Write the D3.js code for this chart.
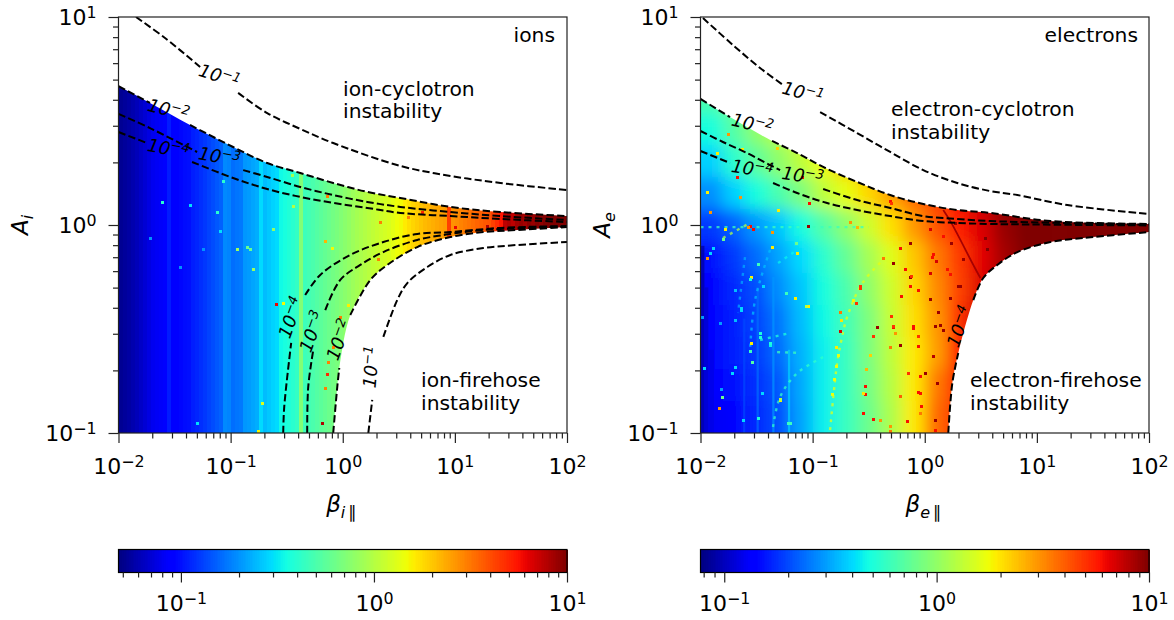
<!DOCTYPE html>
<html>
<head>
<meta charset="utf-8">
<script src="https://cdn.jsdelivr.net/npm/d3@7"></script>
<style>
    html, body { margin: 0; padding: 0; background: #fff; }
    text { font-family: "DejaVu Sans", sans-serif; fill: #000; }
</style>
</head>
<body>
<svg id="chart" width="1174" height="620"></svg>
<script>
// all contour points are [log10 beta, log10 A], null = gap for the inline label
const ionUpper1 = [[-1.844,1],[-1.585,.899],[-1.272,.76],null,[-.933,.635],[-.674,.538],[-.379,.462],[-.085,.394],[.513,.284],[.96,.236],[1.406,.202],[2,.168]];
const ionUpper2 = [[-2,.668],[-1.719,.587],null,[-1.362,.481],[-.978,.375],[-.674,.298],[-.379,.25],[-.085,.202],[.219,.159],[.513,.13],[.96,.087],[1.406,.0625],[2,.043]];
const ionUpper3 = [[-2,.534],[-1.719,.466],[-1.299,.351],null,[-.888,.264],[-.674,.231],[-.379,.183],[-.085,.144],[.219,.111],[.513,.087],[.96,.0625],[1.406,.043],[2,.024]];
const ionUpper4 = [[-2,.447],[-1.746,.394],null,[-1.344,.303],[-.978,.226],[-.674,.173],[-.379,.135],[-.085,.106],[.219,.082],[.513,.058],[.96,.043],[1.406,.029],[2,.014]];
const ionLower4 = [[-.531,-1],[-.522,-.875],[-.46,-.567],null,[-.335,-.337],[-.201,-.24],[.067,-.144],[.362,-.082],[.665,-.043],[.96,-.034],[1.406,-.014],[2,-.005]];
const ionLower3 = [[-.317,-1],[-.308,-.779],[-.263,-.601],null,[-.156,-.409],[-.022,-.264],[.156,-.192],[.362,-.13],[.665,-.072],[.96,-.043],[1.254,-.024],[2,-.007]];
const ionLower2 = [[-.085,-1],[-.049,-.779],[-.031,-.6875],null,[.067,-.433],[.246,-.264],[.397,-.192],[.665,-.106],[.96,-.058],[1.254,-.034],[1.558,-.024],[2,-.01]];
const ionLower1 = [[.228,-1],[.263,-.841],null,[.362,-.538],[.487,-.36],[.576,-.279],[.754,-.202],[.96,-.144],[1.254,-.111],[1.558,-.096],[2,-.082]];

const elUpper1 = [[-1.978,.995],[-1.71,.865],[-1.469,.755],[-1.263,.673],null,[-.933,.543],[-.603,.442],[-.308,.351],[-.013,.264],[.29,.202],[.585,.163],[.826,.144],[1.272,.096],[2,.053]];
const elUpper2 = [[-2,.606],[-1.737,.519],null,[-1.362,.404],[-1.138,.346],[-.906,.279],[-.603,.207],[-.308,.144],[-.013,.101],[.29,.072],[.585,.058],[1.121,.019],[2,.005]];
const elUpper3 = [[-2,.452],[-1.8,.399],[-1.585,.346],[-1.38,.288],[-1.29,.264],null,[-.906,.173],[-.603,.12],[-.308,.082],[-.013,.043],[.29,.029],[.585,.019],[2,.002]];
const elUpper4 = [[-2,.356],[-1.737,.298],null,[-1.353,.202],[-1.138,.154],[-.906,.111],[-.603,.072],[-.308,.043],[-.013,.019],[.29,.01],[.585,.005],[2,-.002]];
const elLower = [[.21,-1],[.246,-.76],[.299,-.615],null,[.433,-.361],[.522,-.255],[.647,-.192],[.826,-.13],[1.121,-.082],[1.415,-.0625],[2,-.034]];

// ions: growth colour is nearly a function of beta only, 28 columns per decade
const ionColumns = [.052,.054,.056,.059,.062,.066,.07,.075,.08,.082,.084,.086,.106,.09,.092,.095,.098,.10,
    .108,.112,.118,.124,.131,.138,.146,.154,.19,.185,.165,.171,.175,.205,.21,.22,.23,.293,.25,.265,.28,.293,
    .345,.36,.38,.40,.43,.72,.46,.48,.50,.53,.56,.59,.62,.65,.68,.72,.76,.80,.85,.90,.94,.98,
    1.03,1.08,1.13,1.17,1.22,1.27,1.35,1.45,1.5,1.62,1.75,1.85,1.95,2.05,2.15,2.23,2.3,2.4,2.48,2.55,4.3,
    2.7,2.8,2.95,3.07,3.2,3.35,3.5,3.6,3.75,3.85,4.3,4.8,5.5,7.5,8.0,7.5,8.5,9.0,8.5,9.5,9.0,9.8,9.3,10,10,10,10,10,10];

// isolated cells: [log10 beta, log10 A, value]
const ionSpecks = [[-1.719,-.067,.2],[-1.246,-.12,.2],[-.942,-.12,.85],[-.853,-.106,.6],[-.826,-.12,.6],[-.8,-.216,.85],
    [-.156,-.077,2.2],[-.094,-.115,1.5],[-1.451,-.202,.2],[-1.094,-.029,.3],[-.594,-.38,6],[-.531,-.375,1.5],
    [.317,-.168,3],[.335,.01,3],[-.129,-.663,3],[-.138,-.721,5],[-.156,-.784,3],[-.183,-.952,8],[-.085,-.587,3],
    [-.022,-.447,3],[.049,-.385,1.6],[-1.612,.106,.4],[-1.121,.058,.4],[-1.362,.096,.3],[-1.067,.207,.4],
    [-.442,.087,1],[-.621,-.024,.8],[-.138,.135,3],[-.451,.24,.9],[-.754,-.995,1.5],[-.719,-.856,1.3],[-1.299,-.952,.3],
    [1.004,-.014,6],[1.29,-.005,8],[.71,.058,5],[.585,.034,3]];

// electrons: coarse table, rows from top (log A = 1) down, 20 columns across beta
const electronRows = [
    [.8,1.07,1.43,1.93,2.6,3.45,4.6,6.1,7.5,9,10,10,10,10,10,10,10,10,10,10],
    [.725,.98,1.3,1.75,2.32,3.15,4.2,5.6,6.8,8.2,10,10,10,10,10,10,10,10,10,10],
    [.655,.88,1.18,1.58,2.13,2.85,3.76,5.1,6.1,7.5,9,10,10,10,10,10,10,10,10,10],
    [.49,.69,.98,1.3,1.75,2.32,3.15,4.2,5.1,6.1,7.5,9,10,10,10,10,10,10,10,10],
    [.385,.54,.725,.98,1.3,1.75,2.32,2.85,3.76,4.6,5.6,6.8,8.2,10,10,10,10,10,10,10],
    [.28,.385,.49,.655,.88,1.3,1.66,2.13,2.85,3.76,4.8,6.1,7.5,10,10,10,10,10,10,10],
    [.185,.225,.295,.365,.49,.69,.98,1.43,2.03,2.95,4.2,5.6,6.8,9,10,10,10,10,10,10],
    [.154,.185,.237,.31,.405,.54,.76,1.12,1.58,2.32,3.45,4.8,6.5,8.5,10,10,10,10,10,10],
    [.146,.17,.205,.28,.365,.49,.655,.98,1.43,2.13,3.15,4.6,6.8,8.2,10,10,10,10,10,10],
    [.146,.162,.195,.25,.35,.47,.62,.88,1.37,2.03,2.95,5.1,7.5,9,10,10,10,10,10,10],
    [.146,.162,.185,.237,.334,.45,.59,.88,1.3,1.93,2.85,5.6,6.8,9,10,10,10,10,10,10],
    [.14,.154,.177,.215,.32,.45,.59,.84,1.24,1.93,3.45,5.6,6.1,9,10,10,10,10,10,10],
    [.127,.14,.17,.205,.31,.45,.59,.8,1.18,1.93,3.76,5.1,6.1,9,10,10,10,10,10,10]
];

const electronSpecks = [[-1.558,-.005,6],[-1.04,-.005,9],[-1.362,-.106,1.9],[-1.942,-.159,3],[-1.138,-.139,1.9],[-1.549,-.25,1.9],
    [-1.156,-.351,1.9],[-1.04,-.394,1.9],[-.576,-.303,5],[-.424,-.495,9],[-.754,-.51,7],[-.46,-.538,3.5],[-.281,-.495,6],
    [-.103,-.49,6],[.094,-.486,9],[-1.549,-.572,1.9],[-.79,-.591,1.9],[-.308,-.587,3.5],[-.219,-.577,9],[.004,-.712,9],
    [.112,-.76,9],[-.058,-.803,6],[-.531,-.817,6],[-1.29,-.846,1.9],[-1.835,-.88,3],[-.549,-.904,6],[-.46,-.933,6],
    [-.04,-.904,3.5],[.094,-.9375,9],[.094,-.986,6],[-.156,-.947,6],[-.308,-.995,3.5],[-.754,-.423,3.5],[-.129,-.25,9],
    [-.058,-.3125,6],[.049,-.356,9],[.121,-.423,9],[-.281,-.183,9],[-.219,-.111,6],[-.129,-.091,9],[.067,-.154,6],
    [.201,-.216,6],[-.371,-.159,3.5],[-1.487,-.192,.6],[-1.719,-.712,.4],[-1.692,-.683,.4],[-1.54,-.659,.7],[-1.96,-.6875,.4],
    [-1.8,-.827,.8],[-1.754,.4375,3],[-1.674,.226,6],[-1.031,.101,6],[-1.094,.226,6],[-1.317,.37,2.2],[-.308,.111,6],
    [-1.647,.13,3],[-1.308,.072,1.9],[-1.915,.058,3],[-1.576,-.01,3],[-1.362,-.034,3],[-.603,-.01,2.5],[-.665,.014,3],
    [-1.531,-.024,6],[-1.942,.154,1.9],[-1.844,.346,1.9],[-1.629,.361,1.9],[-1.781,-.024,1.9],[-.174,-.212,6],[.076,-.144,6],
    [.165,-.053,6],[.237,-.087,9],[.344,-.168,9],[.228,-.24,6],[.317,-.298,9],[.54,-.0625,10],[.558,-.12,10],[.228,-.351,9],
    [.138,-.481,9],[-.04,-.808,6],[-1.978,-.447,.3],[-1.692,-.3125,.35],[-1.63,-.4,.4],[-1.469,-.543,.5],[-1.38,-.577,.45],
    [-1.451,-.808,.4],[-1.219,-.952,.6],
    [-.293,-.441,5],[-.114,-.249,5],[-.129,-.297,6],[-.278,-.489,5],[-.204,-.345,6],[-.099,-.497,6],[-.263,-.521,3],
    [-.457,-.537,5],[-.055,-.537,5],[-.055,-.585,6],[.049,-.233,7],[.109,-.177,7],[.302,-.297,9],[.168,-.505,9],
    [.079,-.633,8],[-.04,-.729,6],[-.144,-.713,5],[-.219,-.826,4],[-.025,-.874,6],[-.397,-.938,3],[-.308,-.97,3],
    [-.531,-.778,6],[-.516,-.697,2.5],[-.486,-.625,2.5],[-.605,-.377,5],[-.576,-.297,5],[.049,-.024,7],[.272,.008,9],
    [-.293,.104,5],[-1.796,-.072,.8],[-1.915,-.136,.4],[-1.558,-.264,.5],[-1.439,-.297,.4],[-1.231,-.329,.6],
    [-1.826,-.473,.3],[-1.692,-.457,.35],[-1.469,-.521,.5],[-1.558,-.609,.6],[-1.633,-.409,.4],[-1.38,-.569,.5],
    [-1.886,-.112,.4],[-1.052,-.393,1.3],[-1.142,-.088,.8],[-.784,-.681,1.7],[-.808,-.745,1.7],[-.82,-.817,1.7],
    [-.77,-.625,1.7],[-.487,-.625,2.2],[-.546,-.809,2],[-.74,-.457,2],[-.636,-.361,1.8],[-1.618,-.938,.4],
    [-1.484,-.93,.5],[-1.201,-.954,.6],[-1.811,-.793,.3],[-1.29,-.841,1.2]];

// darker strip along the low beta edge and a few vertical streaks:
// [logBeta from, logBeta to, logA from, logA to, value]
const electronStrips = [[-2,-1.965,-1,-.1,.088],[-1.965,-1.93,-1,-.3,.105],[-1.93,-1.88,-1,-.6,.118],
    [-1.62,-1.6,-1,-.45,.2],[-1.5,-1.48,-1,-.3,.24],[-1.36,-1.34,-1,-.25,.29],[-1.22,-1.2,-1,-.6,.38]];

// faint arcs in the electron map: value, then points
const electronArcValues = [1.6,.55,.5,.6,1.2,.45,.32,.35,.6];
const electronArcs = [
    [[-.844,-.986],[-.781,-.663],[-.737,-.538],[-.692,-.442],[-.549,-.274],[-.308,-.135]],
    [[-1.353,-.971],[-1.29,-.827],[-1.138,-.712],[-.906,-.635]],
    [[-1.469,-.553],[-1.201,-.519]],
    [[-1.317,-.611],[-1.112,-.615]],
    [[-1.8,-.0625],[-1.558,.01]],
    [[-1.308,-.183],[-1.138,-.12]],
    [[-1.603,-.154],[-1.665,-.423]],
    [[-1.38,-.12],[-1.513,-.36],[-1.558,-.6]],
    [[-2,-.01],[-.5,-.01]]
];
const electronRidge = [[.165,.072],[.237,.01],[.433,-.192],[.496,-.255]];

// contour labels: exponent, log beta, log A, angle
const ionLabels = [["−1",-1.103,.71,18],["−2",-1.558,.548,15],["−4",-1.558,.361,11],["−3",-1.103,.322,11],
    ["−4",-.451,-.447,-70],["−3",-.263,-.514,-70],["−2",-.022,-.553,-70],["−1",.263,-.683,-85]];
const electronLabels = [["−1",-1.09,.63,15],["−2",-1.54,.48,13],["−4",-1.54,.264,9],["−3",-1.09,.23,9],["−4",.32,-.49,-70]];

const jetRed = d3.scaleLinear().domain([0,.35,.66,.89,1]).range([0,0,1,1,.5]);
const jetGreen = d3.scaleLinear().domain([0,.125,.375,.64,.91,1]).range([0,0,1,1,0,0]);
const jetBlue = d3.scaleLinear().domain([0,.11,.34,.65,1]).range([.5,1,1,0,0]);
function jet(t) {
    return d3.rgb(jetRed(t)*255, jetGreen(t)*255, jetBlue(t)*255).formatRgb();
}

const svg = d3.select("#chart");
const defs = svg.append("defs");
defs.append("filter").attr("id", "smooth")
    .attr("filterUnits", "userSpaceOnUse")
    .attr("x", 600).attr("y", -60).attr("width", 640).attr("height", 600)
    .append("feGaussianBlur").attr("stdDeviation", 8);

const top_ = 17, bottom = 433;

function minorTicks(lo, hi) {
    // 2..9 of every decade between lo and hi
    const out = [];
    for (let e = lo; e < hi; e++) d3.range(2, 10).forEach(m => out.push(m * Math.pow(10, e)));
    return out;
}

function powLabel(sel, size) {
    sel.each(function (d) {
        const e = Math.round(Math.log10(d));
        const t = d3.select(this).text(null).style("font-size", size + "px");
        t.append("tspan").text("10");
        t.append("tspan").attr("dy", "-0.42em").style("font-size", (size * 0.72) + "px")
            .text(e < 0 ? "−" + (-e) : e);
    });
}

function styleAxis(g) {
    g.select(".domain").remove();
    g.selectAll("line").attr("stroke", "#222").attr("stroke-width", 1.2);
}

function panel(o) {
    const g = svg.append("g");
    const x = d3.scaleLog().domain([1e-2, 1e2]).range([o.left, o.left + 448.5]);
    const y = d3.scaleLog().domain([0.1, 10]).range([bottom, top_]);
    const colour = d3.scaleLog().domain([o.vmin, 10]).range([0, 1]).clamp(true);
    const fx = v => x(Math.pow(10, v));
    const fy = v => y(Math.pow(10, v));

    const line = d3.line().defined(d => d).x(d => fx(d[0])).y(d => fy(d[1])).curve(d3.curveCatmullRom);
    const solid = a => a.filter(d => d);

    // heat is only filled between the two bounding contours
    const upper = solid(o.upper), lower = solid(o.lower).slice().reverse();
    const clipD = line(upper) + "L" + line(lower).slice(1) + "L" + x(1e-2) + "," + y(0.1) + "Z";
    defs.append("clipPath").attr("id", o.id + "-heat").append("path").attr("d", clipD);
    defs.append("clipPath").attr("id", o.id + "-plot").append("rect")
        .attr("x", o.left).attr("y", top_).attr("width", 448.5).attr("height", bottom - top_);

    const heat = g.append("g").attr("clip-path", `url(#${o.id}-plot)`)
        .append("g").attr("clip-path", `url(#${o.id}-heat)`);
    o.drawHeat(heat, fx, fy, colour, x, y);

    const specks = heat.append("g");
    specks.selectAll("rect").data(o.specks).join("rect")
        .attr("x", d => fx(d[0]) - 1.5).attr("y", d => fy(d[1]) - 1.5)
        .attr("width", 3).attr("height", 3)
        .attr("shape-rendering", "crispEdges")
        .attr("fill", d => jet(colour(d[2])));

    g.append("g").attr("clip-path", `url(#${o.id}-plot)`)
        .selectAll("path").data(o.contours).join("path")
        .attr("d", line).attr("fill", "none").attr("stroke", "#000")
        .attr("stroke-width", 2).attr("stroke-dasharray", "7.4 3.2");

    // inline contour labels
    const lab = g.selectAll(".clabel").data(o.labels).join("text").attr("class", "clabel")
        .attr("text-anchor", "middle").attr("dominant-baseline", "middle")
        .attr("transform", d => `translate(${fx(d[1])},${fy(d[2])}) rotate(${d[3]})`)
        .style("font-size", "18px").style("font-style", "oblique");
    lab.append("tspan").text("10");
    lab.append("tspan").attr("dy", "-0.4em").style("font-size", "13px").text(d => d[0]);

    // axes
    const xMinor = d3.axisBottom(x).tickValues(minorTicks(-2, 2)).tickSize(5.5).tickFormat("");
    const xMajor = d3.axisBottom(x).tickValues([1e-2,1e-1,1,10,100]).tickSize(10).tickPadding(15);
    const yMinor = d3.axisLeft(y).tickValues(minorTicks(-1, 1)).tickSize(5.5).tickFormat("");
    const yMajor = d3.axisLeft(y).tickValues([0.1,1,10]).tickSize(10).tickPadding(12);
    g.append("g").attr("transform", `translate(0,${bottom})`).call(xMinor).call(styleAxis);
    g.append("g").attr("transform", `translate(0,${bottom})`).call(xMajor).call(styleAxis)
        .selectAll("text").call(powLabel, 22);
    g.append("g").attr("transform", `translate(${o.left},0)`).call(yMinor).call(styleAxis);
    g.append("g").attr("transform", `translate(${o.left},0)`).call(yMajor).call(styleAxis)
        .selectAll("text").call(powLabel, 22);

    g.append("rect").attr("x", o.left).attr("y", top_).attr("width", 448.5).attr("height", bottom - top_)
        .attr("fill", "none").attr("stroke", "#222").attr("stroke-width", 1.2);

    // annotation text
    g.selectAll(".note").data(o.notes).join("text").attr("class", "note")
        .attr("x", d => d[1]).attr("y", d => d[2])
        .attr("text-anchor", d => d[3] || "start")
        .style("font-size", "20.3px").text(d => d[0]);

    // axis titles
    const xt = g.append("text").attr("x", o.left + 223).attr("y", 512).attr("text-anchor", "middle")
        .style("font-size", "23px").style("font-style", "italic");
    xt.append("tspan").text("β");
    xt.append("tspan").attr("dy", 6).style("font-size", "16px").text(o.sub);
    xt.append("tspan").attr("dx", 3).style("font-size", "17px").style("font-style", "normal").text("∥");

    const yt = g.append("text").attr("transform", `translate(${o.left - 91},225) rotate(-90)`)
        .attr("text-anchor", "middle").style("font-size", "23px").style("font-style", "italic");
    yt.append("tspan").text("A");
    yt.append("tspan").attr("dy", 5).style("font-size", "16px").text(o.sub);

    // colour bar
    const cx = d3.scaleLog().domain([o.vmin, 10]).range([o.left, o.left + 448.5]);
    const bar = g.append("g");
    const steps = d3.range(0, 256);
    bar.selectAll("rect").data(steps).join("rect")
        .attr("x", i => o.left + 448.5 * i / 256).attr("width", 448.5 / 256 + 1)
        .attr("y", 549.5).attr("height", 23)
        .attr("shape-rendering", "crispEdges")
        .attr("fill", i => jet((i + 0.5) / 256));
    bar.append("rect").attr("x", o.left).attr("y", 549.5).attr("width", 448.5).attr("height", 23)
        .attr("fill", "none").attr("stroke", "#000").attr("stroke-width", 1.2);
    const cMinor = d3.axisBottom(cx)
        .tickValues(minorTicks(-2, 1).filter(v => v >= o.vmin && v <= 10)).tickSize(5).tickFormat("");
    const cMajor = d3.axisBottom(cx).tickValues([0.1,1,10]).tickSize(10).tickPadding(13);
    g.append("g").attr("transform", "translate(0,572.5)").call(cMinor).call(styleAxis);
    g.append("g").attr("transform", "translate(0,572.5)").call(cMajor).call(styleAxis)
        .selectAll("text").call(powLabel, 22);
}

panel({
    id: "ion", left: 118.5, vmin: 0.0475, sub: "i",
    upper: ionUpper2, lower: ionLower2,
    contours: [ionUpper1, ionUpper2, ionUpper3, ionUpper4, ionLower1, ionLower2, ionLower3, ionLower4],
    specks: ionSpecks, labels: ionLabels,
    notes: [["ions", 555, 42, "end"], ["ion-cyclotron", 343, 96], ["instability", 343, 118],
            ["ion-firehose", 421, 387], ["instability", 421, 410]],
    drawHeat(heat, fx, fy, colour, x, y) {
        heat.selectAll("rect").data(ionColumns).join("rect")
            .attr("x", (d, i) => fx(-2 + i / 28)).attr("width", (d, i) => fx(-2 + (i + 1) / 28) - fx(-2 + i / 28) + 0.5)
            .attr("y", y(10)).attr("height", y(0.1) - y(10))
            .attr("shape-rendering", "crispEdges")
            .attr("fill", d => jet(colour(d)));
    }
});

panel({
    id: "el", left: 700.5, vmin: 0.0773, sub: "e",
    upper: elUpper2, lower: elLower,
    contours: [elUpper1, elUpper2, elUpper3, elUpper4, elLower],
    specks: electronSpecks, labels: electronLabels,
    notes: [["electrons", 1138, 42, "end"], ["electron-cyclotron", 891, 116], ["instability", 891, 139],
            ["electron-firehose", 970, 387], ["instability", 970, 410]],
    drawHeat(heat, fx, fy, colour) {
        const nCol = 20, nRow = 13, pad = 40;
        const cells = electronRows.flatMap((row, r) => row.map((v, c) => ({ r, c, v })));
        heat.append("g").attr("filter", "url(#smooth)")
            .selectAll("rect").data(cells).join("rect")
            .attr("x", d => fx(-2 + d.c * 4 / nCol) - (d.c === 0 ? pad : 0))
            .attr("width", d => fx(-2 + (d.c + 1) * 4 / nCol) - fx(-2 + d.c * 4 / nCol) + 0.5 + (d.c === 0 || d.c === nCol - 1 ? pad : 0))
            .attr("y", d => fy(1 - d.r * 2 / nRow) - (d.r === 0 ? pad : 0))
            .attr("height", d => fy(1 - (d.r + 1) * 2 / nRow) - fy(1 - d.r * 2 / nRow) + 0.5 + (d.r === 0 || d.r === nRow - 1 ? pad : 0))
            .attr("fill", d => jet(colour(d.v)));

        heat.append("g").selectAll("rect").data(electronStrips).join("rect")
            .attr("x", d => fx(d[0])).attr("width", d => fx(d[1]) - fx(d[0]))
            .attr("y", d => fy(d[3])).attr("height", d => fy(d[2]) - fy(d[3]))
            .attr("fill", d => jet(colour(d[4]))).attr("opacity", 0.7);

        const arc = d3.line().x(d => fx(d[0])).y(d => fy(d[1])).curve(d3.curveCatmullRom);
        heat.append("g").selectAll("path").data(electronArcs).join("path")
            .attr("d", arc).attr("fill", "none")
            .attr("stroke", (d, i) => jet(colour(electronArcValues[i])))
            .attr("stroke-width", 2.4).attr("stroke-dasharray", "3 5").attr("opacity", 0.75);
        heat.append("path").datum(electronRidge).attr("d", arc).attr("fill", "none")
            .attr("stroke", jet(colour(8.5))).attr("stroke-width", 1.8);
    }
});
</script>
</body>
</html>
